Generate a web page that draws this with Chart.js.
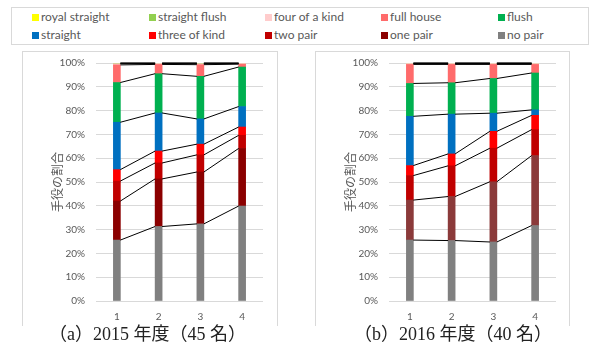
<!DOCTYPE html>
<html><head><meta charset="utf-8">
<script src="https://cdn.jsdelivr.net/npm/chart.js@4.4.1/dist/chart.umd.min.js"></script>
<style>
html,body{margin:0;padding:0;background:#fff;width:594px;height:353px;overflow:hidden;position:relative;font-family:Lato,sans-serif;}
#legend{position:absolute;left:11px;top:7px;width:576px;height:36px;border:1px solid #d9d9d9;}
.li{position:absolute;font-size:12px;color:#595959;white-space:nowrap;line-height:14px;height:14px;}
.li i{display:inline-block;width:7px;height:7px;margin-right:2px;vertical-align:0px;}
.panel{position:absolute;top:51px;height:274px;border:1px solid #d9d9d9;border-bottom:none;overflow:visible;}
.panel canvas{position:absolute;left:0;top:-6px;}
.cap{position:absolute;top:322px;font-family:"Liberation Serif","Noto Sans CJK JP",serif;font-size:18px;color:#222;white-space:nowrap;line-height:24px;}
</style></head>
<body>
<div id="legend"></div>
<div class="panel" id="p1" style="left:22px;width:254px;"><canvas id="c1"></canvas></div>
<div class="panel" id="p2" style="left:315px;width:253px;"><canvas id="c2"></canvas></div>
<div class="cap" id="cap1" style="left:49px;"></div>
<div class="cap" id="cap2" style="left:354px;"></div>
<script>
// ---- data ----
const categories = ['1','2','3','4'];
const seriesNames = ['no pair','one pair','two pair','three of kind','straight','flush','full house','four of a kind','straight flush','royal straight'];
const legendOrder = ['royal straight','straight flush','four of a kind','full house','flush','straight','three of kind','two pair','one pair','no pair'];
const yTicks = [0,10,20,30,40,50,60,70,80,90,100];
const captions = ['（a）2015 年度（45 名）','（b）2016 年度（40 名）'];
const yTitle = '手役の割合';

// 2015 (%), per category 1..4
const noPair2015        = [25.6, 31.3, 32.4, 39.9];
const onePair2015       = [16.4, 20.0, 21.8, 24.2];
const twoPair2015       = [ 8.4,  6.7,  7.2,  5.5];
const threeKind2015     = [ 4.8,  5.0,  4.5,  3.5];
const straight2015      = [19.9, 16.0, 10.6,  8.6];
const flush2015         = [16.7, 16.5, 17.9, 16.6];
const fullHouse2015     = [ 7.4,  3.9,  4.9,  1.2];
const fourKind2015      = [ 0.5,  0.4,  0.4,  0.3];
const straightFlush2015 = [ 0.2,  0.1,  0.2,  0.1];
const royal2015         = [ 0.1,  0.1,  0.1,  0.1];

// 2016 (%)
const noPair2016        = [25.6, 25.4, 24.8, 31.7];
const onePair2016       = [16.8, 18.5, 25.3, 29.4];
const twoPair2016       = [10.3, 12.9, 14.1, 10.9];
const threeKind2016     = [ 4.2,  5.0,  7.1,  6.0];
const straight2016      = [20.7, 16.7,  7.6,  2.3];
const flush2016         = [13.8, 13.2, 14.6, 15.5];
const fullHouse2016     = [ 8.0,  7.7,  5.9,  3.6];
const fourKind2016      = [ 0.4,  0.4,  0.4,  0.4];
const straightFlush2016 = [ 0.1,  0.1,  0.1,  0.1];
const royal2016         = [ 0.1,  0.1,  0.1,  0.1];

const colors = {
  'no pair':'#808080','one pair':'#8B0000','two pair':'#C00000','three of kind':'#FF0000',
  'straight':'#0070C0','flush':'#00B050','full house':'#FF6B6B','four of a kind':'#FFCCCC',
  'straight flush':'#92D050','royal straight':'#FFFF00'
};
const colors2016 = Object.assign({}, colors, {'one pair':'#8B3A3A'});

const data2015 = [noPair2015,onePair2015,twoPair2015,threeKind2015,straight2015,flush2015,fullHouse2015,fourKind2015,straightFlush2015,royal2015];
const data2016 = [noPair2016,onePair2016,twoPair2016,threeKind2016,straight2016,flush2016,fullHouse2016,fourKind2016,straightFlush2016,royal2016];

// ---- legend ----
const legendX = [32,149,265,381,498];
const legendY = [17,35];
const lg = document.getElementById('legend');
legendOrder.forEach((name,k)=>{
  const d = document.createElement('div');
  d.className='li';
  d.style.left = (legendX[k%5]-12)+'px';
  d.style.top = (legendY[Math.floor(k/5)]-7-8)+'px';
  d.innerHTML = '<i style="background:'+colors[name]+'"></i>'+name;
  lg.appendChild(d);
});
document.getElementById('cap1').textContent = captions[0];
document.getElementById('cap2').textContent = captions[1];

// ---- series lines plugin ----
const seriesLines = {
  id:'seriesLines',
  afterDatasetsDraw(chart){
    const ctx = chart.ctx;
    ctx.save();
    ctx.strokeStyle = '#000';
    ctx.lineWidth = 1;
    chart.data.datasets.forEach((ds,d)=>{
      const meta = chart.getDatasetMeta(d);
      for(let i=0;i<meta.data.length-1;i++){
        const a = meta.data[i], b = meta.data[i+1];
        ctx.beginPath();
        ctx.moveTo(a.x + a.width/2, a.y);
        ctx.lineTo(b.x - b.width/2, b.y);
        ctx.stroke();
      }
    });
    ctx.restore();
  }
};

function makeChart(id, w, h, series, cols, padRight){
  const cv = document.getElementById(id);
  cv.width = w; cv.height = h;
  cv.style.width = w+'px'; cv.style.height = h+'px';
  return new Chart(cv, {
    type:'bar',
    data:{
      labels: categories,
      datasets: series.map((vals,k)=>({
        label: seriesNames[k],
        data: vals,
        backgroundColor: cols[seriesNames[k]],
        borderWidth: 0,
        barThickness: 7
      }))
    },
    options:{
      responsive:false,
      animation:false,
      events:[],
      layout:{padding:{top:5,right:padRight,left:0,bottom:0}},
      plugins:{legend:{display:false},tooltip:{enabled:false}},
      scales:{
        x:{
          stacked:true,
          grid:{display:false, drawTicks:false},
          border:{display:false},
          ticks:{color:'#595959', font:{family:'Lato', size:10}, padding:10},
          afterFit(s){ s.height = 25; }
        },
        y:{
          stacked:true,
          min:0, max:100,
          afterBuildTicks(s){ s.ticks = yTicks.map(v=>({value:v})); },
          grid:{color:'#d9d9d9', drawTicks:false, lineWidth:1},
          border:{display:false},
          ticks:{color:'#595959', font:{family:'Lato', size:10}, padding:11, callback:v=>v+'%'},
          title:{display:true, text:yTitle, color:'#595959', font:{family:'Noto Sans CJK JP', size:12}, padding:{top:27,bottom:0}},
          afterFit(s){ s.width = 73; }
        }
      }
    },
    plugins:[seriesLines]
  });
}

makeChart('c1', 254, 280, data2015, colors, 14);
makeChart('c2', 253, 280, data2016, colors2016, 13);
</script>
</body></html>
